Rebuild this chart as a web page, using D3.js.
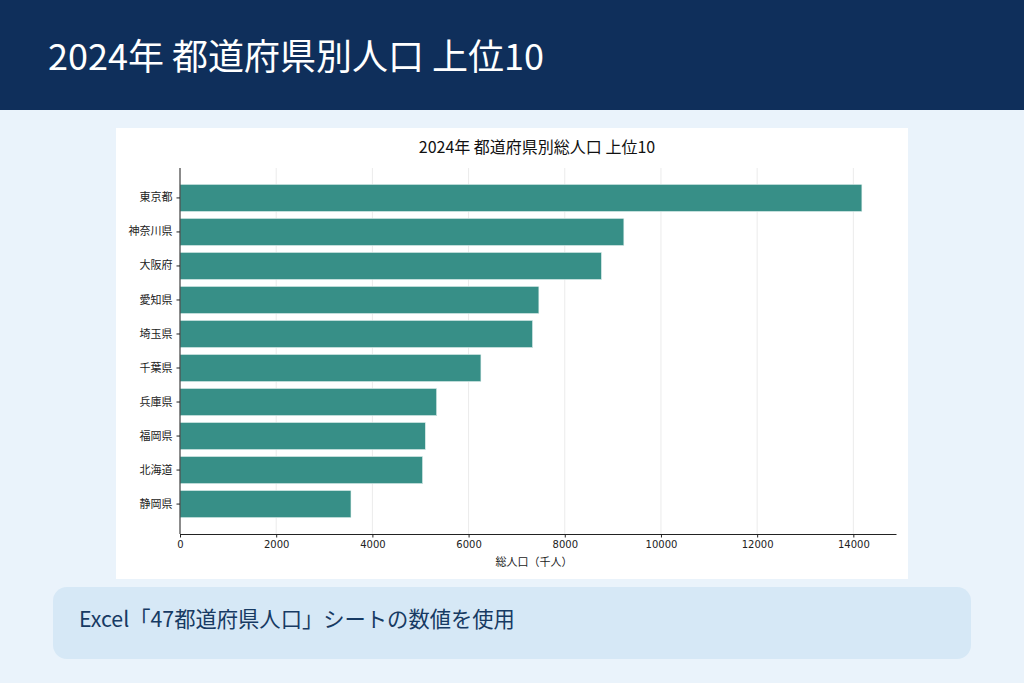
<!DOCTYPE html>
<html><head><meta charset="utf-8">
<script src="https://cdn.jsdelivr.net/npm/d3@7"></script>
<style>
body{margin:0;background:#eaf3fb;}
svg{display:block;}
</style></head><body>
<svg id="c" width="1024" height="683"></svg>
<script>
const prefectures = ["東京都","神奈川県","大阪府","愛知県","埼玉県","千葉県","兵庫県","福岡県","北海道","静岡県"];
const population = [14178,9229,8763,7462,7331,6257,5337,5102,5044,3555];
const xTicks = [0,2000,4000,6000,8000,10000,12000,14000];
const pageTitle = "2024年 都道府県別人口 上位10";
const chartTitle = "2024年 都道府県別総人口 上位10";
const xLabel = "総人口（千人）";
const note = "Excel「47都道府県人口」シートの数値を使用";

const svg = d3.select("#c");
const jp = "'Noto Sans CJK JP','Noto Sans',sans-serif";
const num = "'DejaVu Sans',sans-serif";

svg.append("rect").attr("x",0).attr("y",0).attr("width",1024).attr("height",683).attr("fill","#eaf3fb");
svg.append("rect").attr("x",0).attr("y",0).attr("width",1024).attr("height",110).attr("fill","#0f2f5b");
svg.append("text").attr("x",48).attr("y",70).attr("fill","#ffffff")
  .style("font-family",jp).style("font-size","36px").text(pageTitle);

svg.append("rect").attr("x",116).attr("y",128).attr("width",792).attr("height",451).attr("fill","#ffffff");

const x = d3.scaleLinear().domain([0, d3.max(population)*1.05]).range([180,896]);
const y = d3.scaleBand().domain(prefectures).range([168,534]).paddingInner(0.2).paddingOuter(0.48);

const g = svg.append("g");
g.selectAll("line.grid").data(xTicks).enter().append("line")
  .attr("x1",d=>x(d)).attr("x2",d=>x(d)).attr("y1",168).attr("y2",534)
  .attr("stroke","#ebebeb").attr("stroke-width",1);

g.selectAll("rect.bar").data(population).enter().append("rect")
  .attr("x",x(0)).attr("y",(d,i)=>y(prefectures[i]))
  .attr("width",d=>x(d)-x(0)).attr("height",y.bandwidth())
  .attr("fill","#378f87").attr("stroke","#e6f2f0").attr("stroke-width",0.6);

const xa = svg.append("g").attr("transform","translate(0,534)")
  .call(d3.axisBottom(x).tickValues(xTicks).tickFormat(d3.format("d")).tickSizeInner(3.5).tickSizeOuter(0).tickPadding(3));
xa.select(".domain").attr("stroke","#222").attr("stroke-width",1);
xa.selectAll("text").style("font-family",num).style("font-size","10px").attr("fill","#222");
xa.selectAll(".tick line").attr("stroke","#222");

const ya = svg.append("g").attr("transform","translate(180,0)")
  .call(d3.axisLeft(y).tickSizeInner(3.5).tickSizeOuter(0).tickPadding(4));
ya.select(".domain").attr("stroke","#222").attr("stroke-width",1).attr("d","M0,168V534");
ya.selectAll("text").style("font-family",jp).style("font-size","11px").attr("fill","#222");
ya.selectAll(".tick line").attr("stroke","#222");

svg.append("text").attr("x",537).attr("y",153).attr("text-anchor","middle").attr("fill","#111")
  .style("font-family",jp).style("font-size","16px").text(chartTitle);
svg.append("text").attr("x",534).attr("y",566).attr("text-anchor","middle").attr("fill","#222")
  .style("font-family",jp).style("font-size","11px").text(xLabel);

svg.append("rect").attr("x",53).attr("y",587).attr("width",918).attr("height",72).attr("rx",14).attr("fill","#d6e8f6");
svg.append("text").attr("x",79).attr("y",627).attr("fill","#173a63")
  .style("font-family",jp).style("font-size","21.3px").text(note);
</script>
</body></html>
